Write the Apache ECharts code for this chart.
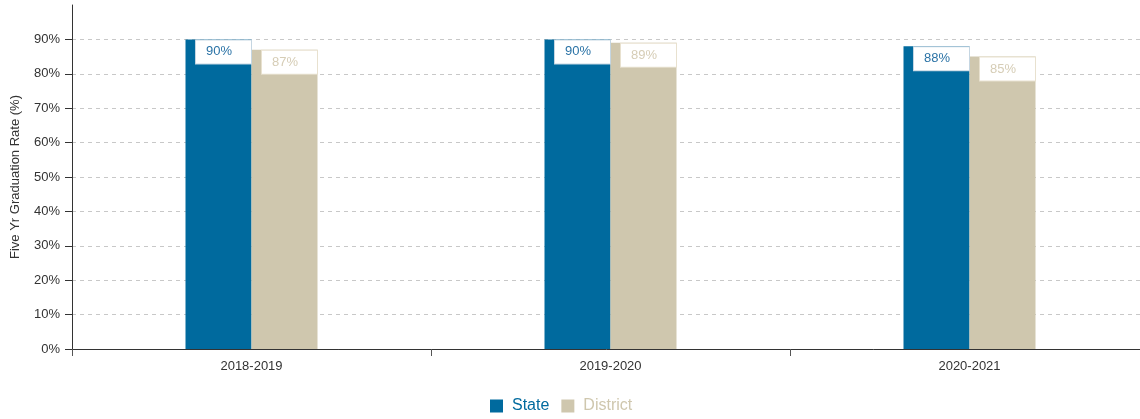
<!DOCTYPE html>
<html>
<head>
<meta charset="utf-8">
<script src="https://cdn.jsdelivr.net/npm/echarts@6/dist/echarts.min.js"></script>
<style>
    html, body { margin: 0; padding: 0; background: #fff; }
    #chart { width: 1140px; height: 419px; }
</style>
</head>
<body>
<div id="chart"></div>
<script>
// school years on the x axis
const years = ["2018-2019", "2019-2020", "2020-2021"];
// five year graduation rate, percent
const stateRate = [90, 90, 88];
const districtRate = [87, 89, 85];

const stateColor = "#006a9e";
const districtColor = "#cfc7ae";
const font = "Liberation Sans, Arial, sans-serif";

const barLabel = (textColor, borderColor) => {
    return {
        show: true,
        position: "insideTop",
        distance: 1,
        offset: [5, 0],
        formatter: "{c}%",
        color: textColor,
        fontFamily: font,
        fontSize: 13,
        lineHeight: 13,
        backgroundColor: "#fff",
        borderColor: borderColor,
        borderWidth: 1,
        padding: [5, 19, 5, 10]
    };
};

const chart = echarts.init(document.getElementById("chart"));

const option = {
    animation: false,
    grid: {
        left: 72,
        top: 5,
        bottom: 70,
        right: -9,
        outerBoundsMode: "none"
    },
    legend: {
        left: 490,
        top: 398,
        padding: 0,
        itemWidth: 13,
        itemHeight: 13,
        itemGap: 12,
        icon: "rect",
        textStyle: {
            fontFamily: font,
            fontSize: 16,
            padding: [0, 0, 0, 4]
        },
        data: [
            { name: "State", textStyle: { color: stateColor } },
            { name: "District", textStyle: { color: districtColor } }
        ]
    },
    xAxis: {
        type: "category",
        data: years,
        axisLine: { lineStyle: { color: "#333", width: 1 } },
        axisTick: { show: true, length: 7, lineStyle: { color: "#555" } },
        axisLabel: {
            color: "#333",
            fontFamily: font,
            fontSize: 13,
            margin: 11
        }
    },
    yAxis: {
        type: "value",
        min: 0,
        max: 100,
        interval: 10,
        name: "Five Yr Graduation Rate (%)",
        nameLocation: "middle",
        nameGap: 50,
        nameTextStyle: {
            color: "#333",
            fontFamily: font,
            fontSize: 13
        },
        axisLine: { show: true, lineStyle: { color: "#333", width: 1 } },
        axisTick: { show: true, length: 7, lineStyle: { color: "#333" } },
        axisLabel: {
            formatter: "{value}%",
            color: "#333",
            fontFamily: font,
            fontSize: 13,
            margin: 12,
            showMaxLabel: false
        },
        splitLine: {
            show: true,
            showMaxLine: false,
            lineStyle: { color: "#c8c8c8", type: [4, 4] }
        }
    },
    series: [
        {
            name: "State",
            type: "bar",
            data: stateRate,
            barWidth: 66,
            barGap: "0%",
            itemStyle: { color: stateColor },
            label: barLabel("#2b73a6", "#c5d6e2")
        },
        {
            name: "District",
            type: "bar",
            data: districtRate,
            barWidth: 66,
            itemStyle: { color: districtColor },
            label: barLabel("#d6cdb6", "#e8e1cf")
        }
    ]
};

chart.setOption(option);
</script>
</body>
</html>
